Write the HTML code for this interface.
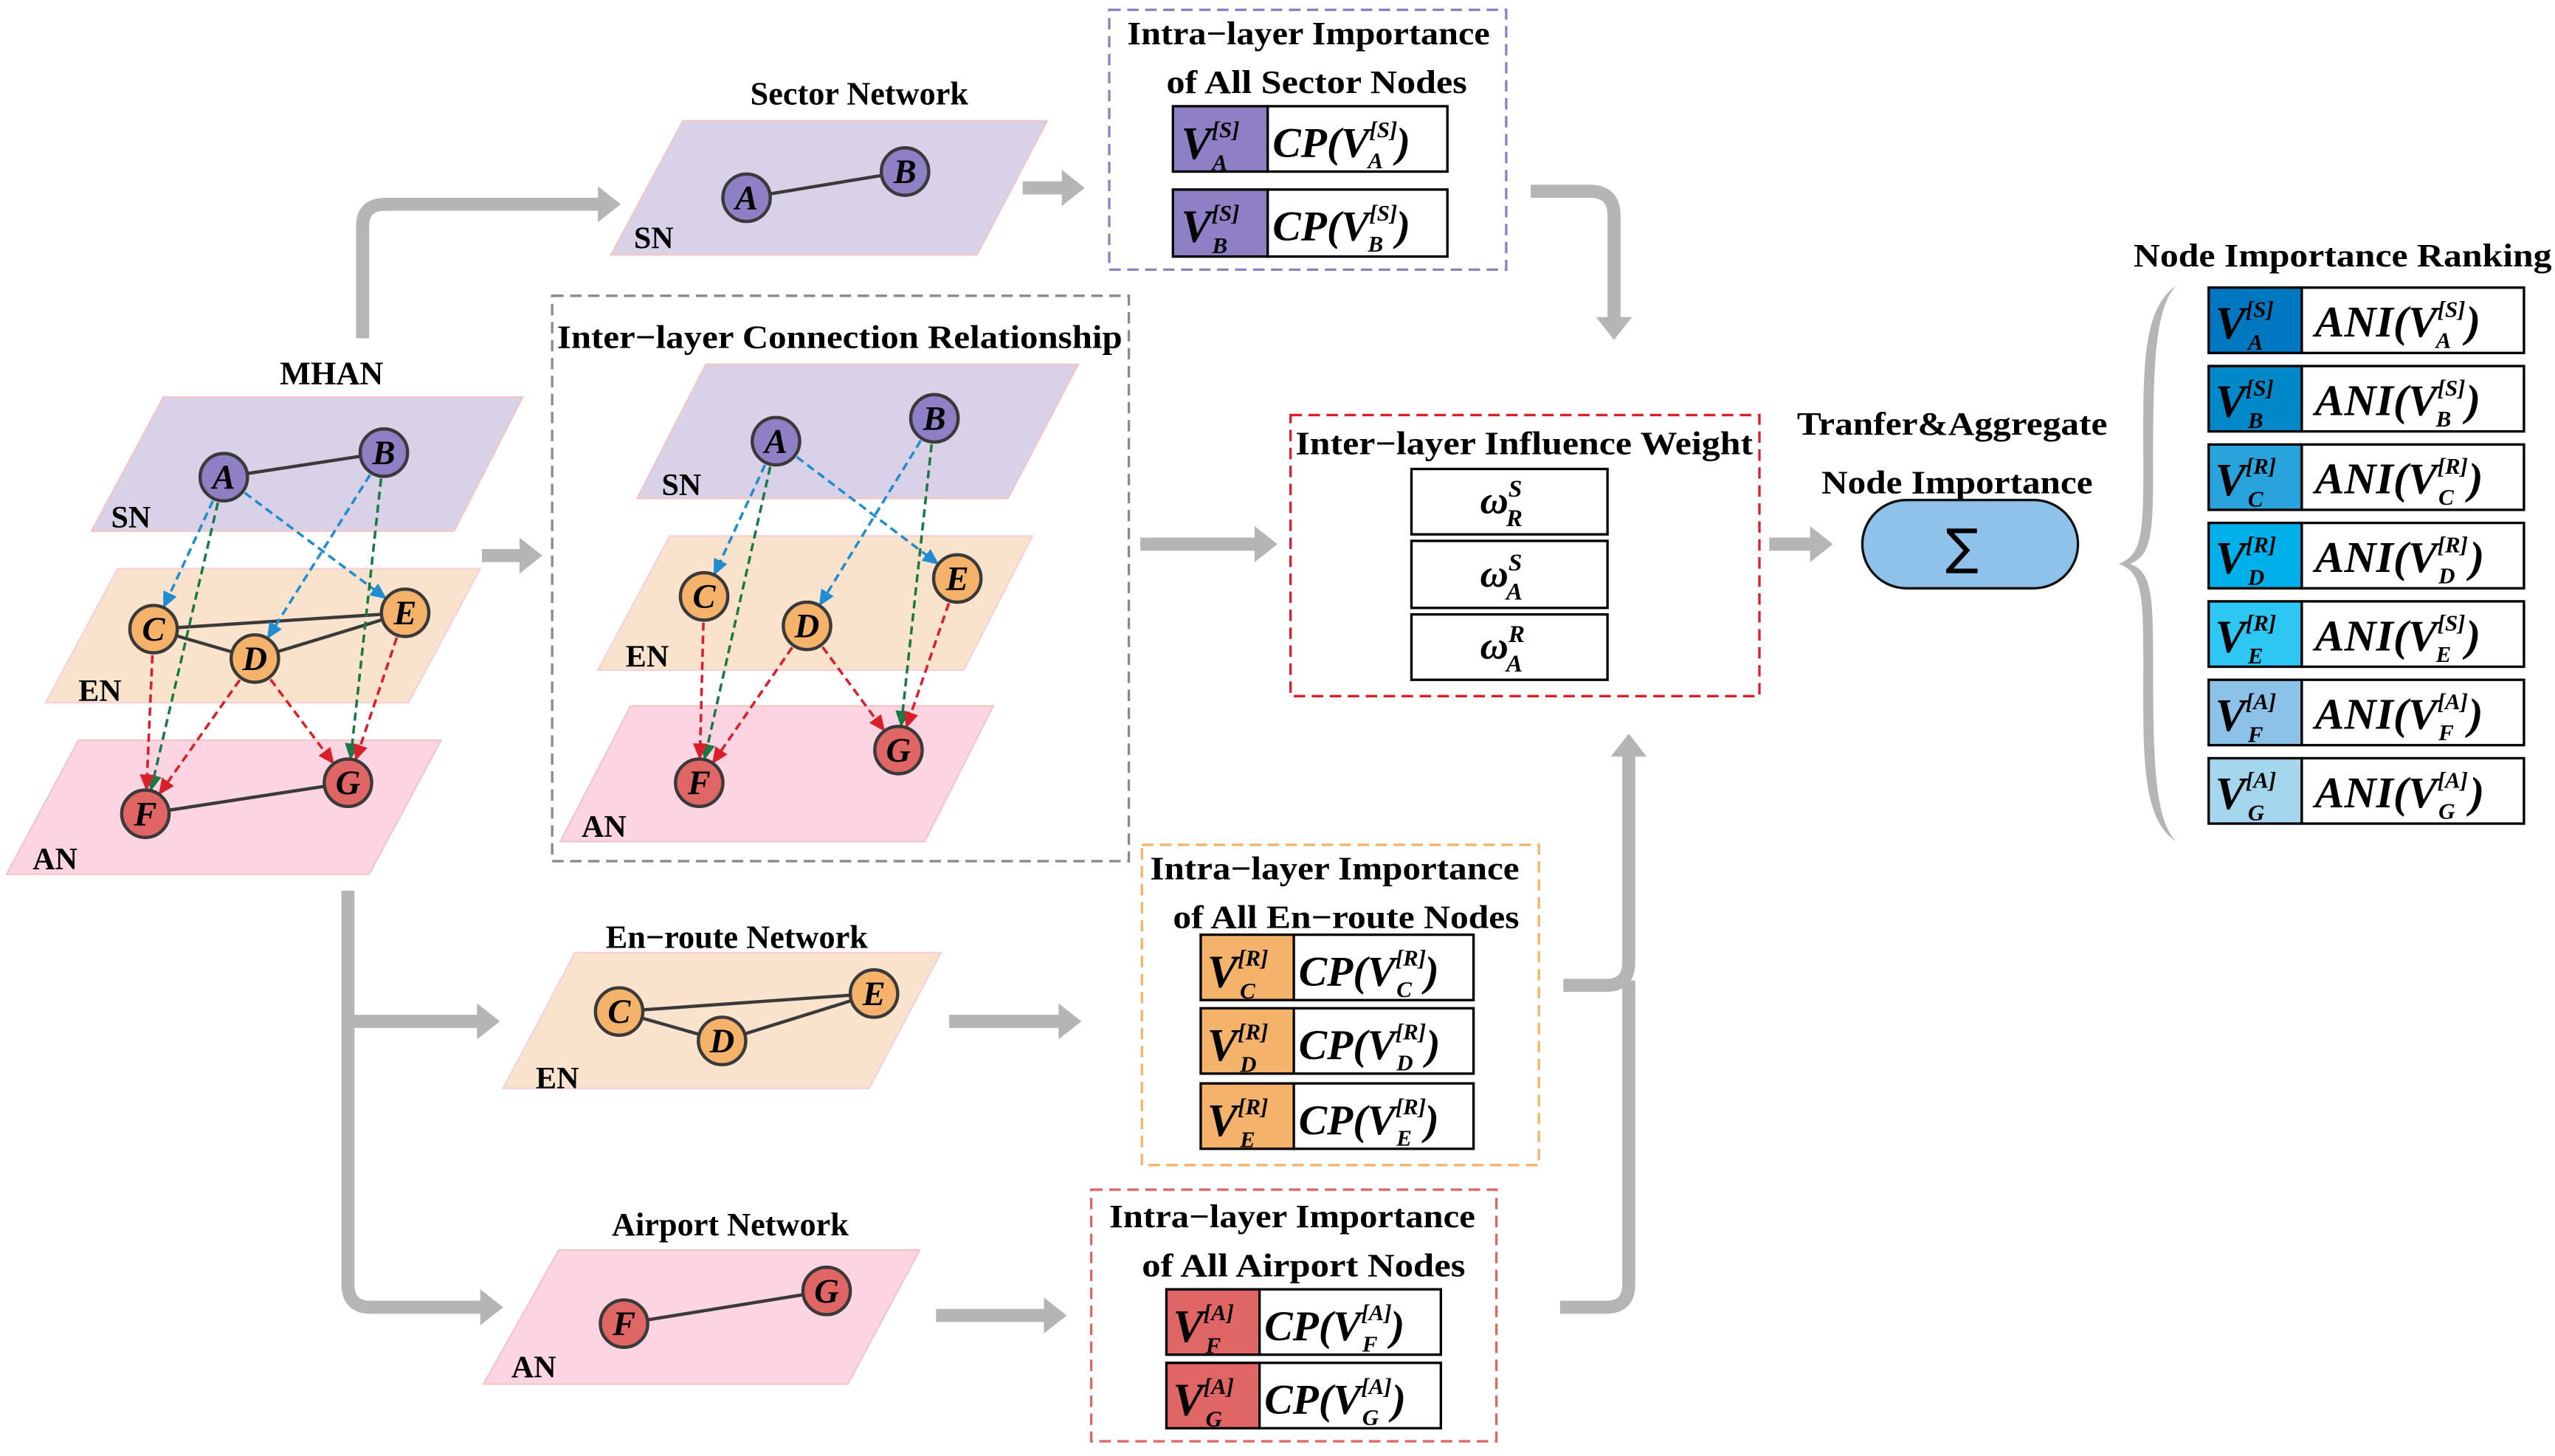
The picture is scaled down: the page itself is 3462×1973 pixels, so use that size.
<!DOCTYPE html>
<html><head><meta charset="utf-8"><style>
html,body{margin:0;padding:0;background:#fff}
svg{display:block}
.t{font-family:"Liberation Serif",serif;font-weight:bold;fill:#000}
.m{font-family:"Liberation Serif",serif;font-weight:bold;font-style:italic;fill:#000}
.nl{font-family:"Liberation Serif",serif;font-weight:bold;font-style:italic;font-size:21px;text-anchor:middle;fill:#000}
</style></head><body>
<svg width="3462" height="1973" viewBox="0 0 1564 891" preserveAspectRatio="none" xmlns="http://www.w3.org/2000/svg">
<defs>
<marker id="ab" markerUnits="userSpaceOnUse" markerWidth="30" markerHeight="12" refX="24" refY="4.5" orient="auto" overflow="visible"><path d="M0,0 L10,4.5 L0,9 z" fill="#1f8dd0"/></marker>
<marker id="ag" markerUnits="userSpaceOnUse" markerWidth="30" markerHeight="12" refX="24" refY="4.5" orient="auto" overflow="visible"><path d="M0,0 L10,4.5 L0,9 z" fill="#1a7a45"/></marker>
<marker id="ar" markerUnits="userSpaceOnUse" markerWidth="30" markerHeight="12" refX="24" refY="4.5" orient="auto" overflow="visible"><path d="M0,0 L10,4.5 L0,9 z" fill="#d9202a"/></marker>
<marker id="gy" markerUnits="userSpaceOnUse" markerWidth="20" markerHeight="24" refX="2" refY="11" orient="auto" overflow="visible"><path d="M0,0 L14,11 L0,22 z" fill="#b5b5b5"/></marker>
</defs>

<!-- gray flow arrows -->
<g fill="none" stroke="#b5b5b5" stroke-width="8">
<path d="M222,207 V138 Q222,125 236,125 H368" marker-end="url(#gy)"/>
<path d="M295,340 H320" marker-end="url(#gy)"/>
<path d="M213,545 V786 Q213,800 227,800 H296" marker-end="url(#gy)"/>
<path d="M213,625 H294" marker-end="url(#gy)"/>
<path d="M626,115 H652" marker-end="url(#gy)"/>
<path d="M698,333 H770" marker-end="url(#gy)"/>
<path d="M581,625 H650" marker-end="url(#gy)"/>
<path d="M573,805 H641" marker-end="url(#gy)"/>
<path d="M937,117 H973 Q988,117 988,132 V196" marker-end="url(#gy)"/>
<path d="M957,603 H983 Q997,603 997,589 V461" marker-end="url(#gy)"/>
<path d="M955,800 H983 Q997,800 997,786 V600"/>
<path d="M1083,333 H1110" marker-end="url(#gy)"/>
</g>

<!-- MHAN -->
<text class="t" x="203" y="235" font-size="20" text-anchor="middle">MHAN</text>
<polygon points="100,243 320,243 278,325 56,325" fill="#d9d1e8" stroke="#f2c6c6" stroke-width="1"/>
<polygon points="72,348 294,348 250,430 28,430" fill="#fae3cc" stroke="#f7cfd8" stroke-width="1"/>
<polygon points="48,453 270,453 226,535 4,535" fill="#fcd4e2" stroke="#f2c6c6" stroke-width="1"/>
<text class="t" x="68" y="323" font-size="19">SN</text>
<text class="t" x="48" y="429" font-size="19">EN</text>
<text class="t" x="20" y="532" font-size="19">AN</text>
<g stroke="#3a3a3a" stroke-width="2">
<line x1="137" y1="292" x2="235" y2="277"/>
<line x1="94" y1="385" x2="248" y2="375"/>
<line x1="94" y1="385" x2="156" y2="403"/>
<line x1="156" y1="403" x2="248" y2="375"/>
<line x1="89" y1="498" x2="213" y2="479"/>
</g>
<g fill="none" stroke-width="1.6" stroke-dasharray="5,3">
<line x1="137" y1="292" x2="94" y2="385" stroke="#1f8dd0" marker-end="url(#ab)"/>
<line x1="137" y1="292" x2="248" y2="375" stroke="#1f8dd0" marker-end="url(#ab)"/>
<line x1="235" y1="277" x2="156" y2="403" stroke="#1f8dd0" marker-end="url(#ab)"/>
<line x1="137" y1="292" x2="89" y2="498" stroke="#1a7a45" marker-end="url(#ag)"/>
<line x1="235" y1="277" x2="213" y2="479" stroke="#1a7a45" marker-end="url(#ag)"/>
<line x1="94" y1="385" x2="89" y2="498" stroke="#d9202a" marker-end="url(#ar)"/>
<line x1="156" y1="403" x2="89" y2="498" stroke="#d9202a" marker-end="url(#ar)"/>
<line x1="156" y1="403" x2="213" y2="479" stroke="#d9202a" marker-end="url(#ar)"/>
<line x1="248" y1="375" x2="213" y2="479" stroke="#d9202a" marker-end="url(#ar)"/>
</g>
<g stroke="#3a3a3a" stroke-width="2">
<circle cx="137" cy="292" r="14.5" fill="#8f7fc4"/>
<circle cx="235" cy="277" r="14.5" fill="#8f7fc4"/>
<circle cx="94" cy="385" r="14.5" fill="#f5b26b"/>
<circle cx="156" cy="403" r="14.5" fill="#f5b26b"/>
<circle cx="248" cy="375" r="14.5" fill="#f5b26b"/>
<circle cx="89" cy="498" r="14.5" fill="#e06666"/>
<circle cx="213" cy="479" r="14.5" fill="#e06666"/>
</g>
<text class="nl" x="137" y="299">A</text><text class="nl" x="235" y="284">B</text>
<text class="nl" x="94" y="392">C</text><text class="nl" x="156" y="410">D</text>
<text class="nl" x="248" y="382">E</text><text class="nl" x="89" y="505">F</text>
<text class="nl" x="213" y="486">G</text>

<!-- Inter-layer connection relationship -->
<rect x="338" y="181" width="353" height="346" fill="none" stroke="#8a8a8a" stroke-width="1.5" stroke-dasharray="7,4"/>
<text class="t" x="514" y="213" font-size="20" text-anchor="middle" textLength="346" lengthAdjust="spacingAndGlyphs">Inter−layer Connection Relationship</text>
<polygon points="432,223 660,223 617,305 390,305" fill="#d9d1e8" stroke="#f2c6c6"/>
<polygon points="410,328 632,328 590,410 366,410" fill="#fae3cc" stroke="#f7cfd8"/>
<polygon points="386,432 608,432 566,515 343,515" fill="#fcd4e2" stroke="#f2c6c6"/>
<text class="t" x="405" y="303" font-size="19">SN</text>
<text class="t" x="383" y="408" font-size="19">EN</text>
<text class="t" x="356" y="512" font-size="19">AN</text>
<g fill="none" stroke-width="1.6" stroke-dasharray="5,3">
<line x1="475" y1="270" x2="431" y2="365" stroke="#1f8dd0" marker-end="url(#ab)"/>
<line x1="475" y1="270" x2="586" y2="354" stroke="#1f8dd0" marker-end="url(#ab)"/>
<line x1="572" y1="256" x2="494" y2="383" stroke="#1f8dd0" marker-end="url(#ab)"/>
<line x1="475" y1="270" x2="428" y2="479" stroke="#1a7a45" marker-end="url(#ag)"/>
<line x1="572" y1="256" x2="550" y2="459" stroke="#1a7a45" marker-end="url(#ag)"/>
<line x1="431" y1="365" x2="428" y2="479" stroke="#d9202a" marker-end="url(#ar)"/>
<line x1="494" y1="383" x2="428" y2="479" stroke="#d9202a" marker-end="url(#ar)"/>
<line x1="494" y1="383" x2="550" y2="459" stroke="#d9202a" marker-end="url(#ar)"/>
<line x1="586" y1="354" x2="550" y2="459" stroke="#d9202a" marker-end="url(#ar)"/>
</g>
<g stroke="#3a3a3a" stroke-width="2">
<circle cx="475" cy="270" r="14.5" fill="#8f7fc4"/>
<circle cx="572" cy="256" r="14.5" fill="#8f7fc4"/>
<circle cx="431" cy="365" r="14.5" fill="#f5b26b"/>
<circle cx="494" cy="383" r="14.5" fill="#f5b26b"/>
<circle cx="586" cy="354" r="14.5" fill="#f5b26b"/>
<circle cx="428" cy="479" r="14.5" fill="#e06666"/>
<circle cx="550" cy="459" r="14.5" fill="#e06666"/>
</g>
<text class="nl" x="475" y="277">A</text><text class="nl" x="572" y="263">B</text>
<text class="nl" x="431" y="372">C</text><text class="nl" x="494" y="390">D</text>
<text class="nl" x="586" y="361">E</text><text class="nl" x="428" y="486">F</text>
<text class="nl" x="550" y="466">G</text>

<!-- Sector network -->
<text class="t" x="526" y="64" font-size="20" text-anchor="middle">Sector Network</text>
<polygon points="418,74 641,74 598,156 374,156" fill="#d9d1e8" stroke="#f2c6c6"/>
<text class="t" x="388" y="152" font-size="19">SN</text>
<line x1="457" y1="121" x2="554" y2="105" stroke="#3a3a3a" stroke-width="2"/>
<g stroke="#3a3a3a" stroke-width="2">
<circle cx="457" cy="121" r="14.5" fill="#8f7fc4"/>
<circle cx="554" cy="105" r="14.5" fill="#8f7fc4"/>
</g>
<text class="nl" x="457" y="128">A</text><text class="nl" x="554" y="112">B</text>

<!-- En-route network -->
<text class="t" x="451" y="580" font-size="20" text-anchor="middle">En−route Network</text>
<polygon points="352,583 576,583 532,666 308,666" fill="#fae3cc" stroke="#f7cfd8"/>
<text class="t" x="328" y="666" font-size="19">EN</text>
<g stroke="#3a3a3a" stroke-width="2">
<line x1="379" y1="619" x2="535" y2="608"/>
<line x1="379" y1="619" x2="442" y2="637"/>
<line x1="442" y1="637" x2="535" y2="608"/>
<circle cx="379" cy="619" r="14.5" fill="#f5b26b"/>
<circle cx="442" cy="637" r="14.5" fill="#f5b26b"/>
<circle cx="535" cy="608" r="14.5" fill="#f5b26b"/>
</g>
<text class="nl" x="379" y="626">C</text><text class="nl" x="442" y="644">D</text><text class="nl" x="535" y="615">E</text>

<!-- Airport network -->
<text class="t" x="447" y="756" font-size="20" text-anchor="middle">Airport Network</text>
<polygon points="342,765 563,765 519,847 296,847" fill="#fcd4e2" stroke="#f2c6c6"/>
<text class="t" x="313" y="843" font-size="19">AN</text>
<g stroke="#3a3a3a" stroke-width="2">
<line x1="382" y1="810" x2="506" y2="790"/>
<circle cx="382" cy="810" r="14.5" fill="#e06666"/>
<circle cx="506" cy="790" r="14.5" fill="#e06666"/>
</g>
<text class="nl" x="382" y="817">F</text><text class="nl" x="506" y="797">G</text>

<!-- Sector intra box -->
<rect x="679" y="6" width="243" height="159" fill="none" stroke="#8f7fc4" stroke-width="1.5" stroke-dasharray="7,4"/>
<text class="t" x="801" y="27" font-size="20" text-anchor="middle" textLength="222" lengthAdjust="spacingAndGlyphs">Intra−layer Importance</text>
<text class="t" x="806" y="57" font-size="20" text-anchor="middle" textLength="184" lengthAdjust="spacingAndGlyphs">of All Sector Nodes</text>
<g stroke="#000" stroke-width="1.5">
<rect x="718" y="65" width="58" height="40" fill="#8f7fc4"/><rect x="776" y="65" width="110" height="40" fill="#fff"/>
<rect x="718" y="116" width="58" height="41" fill="#8f7fc4"/><rect x="776" y="116" width="110" height="41" fill="#fff"/>
</g>
<text class="m" x="723" y="97" font-size="28">V<tspan font-size="14" dy="-13">[S]</tspan><tspan x="742" dy="20" font-size="14">A</tspan></text>
<text class="m" x="779" y="96" font-size="26">CP(V<tspan font-size="14" dy="-12">[S]</tspan><tspan dx="-18" dy="19" font-size="14">A</tspan><tspan dx="8" dy="-7">)</tspan></text>
<text class="m" x="723" y="148" font-size="28">V<tspan font-size="14" dy="-13">[S]</tspan><tspan x="742" dy="20" font-size="14">B</tspan></text>
<text class="m" x="779" y="147" font-size="26">CP(V<tspan font-size="14" dy="-12">[S]</tspan><tspan dx="-18" dy="19" font-size="14">B</tspan><tspan dx="8" dy="-7">)</tspan></text>

<!-- Inter-layer influence weight -->
<rect x="790" y="254" width="287" height="172" fill="none" stroke="#d9202a" stroke-width="1.5" stroke-dasharray="7,4"/>
<text class="t" x="933" y="278" font-size="20" text-anchor="middle" textLength="280" lengthAdjust="spacingAndGlyphs">Inter−layer Influence Weight</text>
<g stroke="#000" stroke-width="1.5" fill="#fff">
<rect x="864" y="287" width="120" height="40"/>
<rect x="864" y="331" width="120" height="41"/>
<rect x="864" y="376" width="120" height="40"/>
</g>
<text class="m" x="906" y="314" font-size="24">ω<tspan font-size="15" dy="-10">S</tspan><tspan x="922" dy="18" font-size="15">R</tspan></text>
<text class="m" x="906" y="359" font-size="24">ω<tspan font-size="15" dy="-10">S</tspan><tspan x="922" dy="18" font-size="15">A</tspan></text>
<text class="m" x="906" y="403" font-size="24">ω<tspan font-size="15" dy="-10">R</tspan><tspan x="922" dy="18" font-size="15">A</tspan></text>

<!-- aggregate -->
<text class="t" x="1195" y="266" font-size="20" text-anchor="middle" textLength="190" lengthAdjust="spacingAndGlyphs">Tranfer&amp;Aggregate</text>
<text class="t" x="1198" y="302" font-size="20" text-anchor="middle" textLength="166" lengthAdjust="spacingAndGlyphs">Node Importance</text>
<rect x="1140" y="306" width="132" height="54" rx="27" fill="#8ec2ea" stroke="#111" stroke-width="1.5"/>
<text x="1201" y="345" font-family="DejaVu Sans,sans-serif" font-size="30" text-anchor="middle" fill="#000">∑</text>

<!-- En-route intra box -->
<rect x="699" y="517" width="243" height="196" fill="none" stroke="#f5b26b" stroke-width="1.5" stroke-dasharray="7,4"/>
<text class="t" x="817" y="538" font-size="20" text-anchor="middle" textLength="226" lengthAdjust="spacingAndGlyphs">Intra−layer Importance</text>
<text class="t" x="824" y="568" font-size="20" text-anchor="middle" textLength="212" lengthAdjust="spacingAndGlyphs">of All En−route Nodes</text>
<g stroke="#000" stroke-width="1.5">
<rect x="735" y="572" width="57" height="40" fill="#f5b26b"/><rect x="792" y="572" width="110" height="40" fill="#fff"/>
<rect x="735" y="617" width="57" height="40" fill="#f5b26b"/><rect x="792" y="617" width="110" height="40" fill="#fff"/>
<rect x="735" y="663" width="57" height="40" fill="#f5b26b"/><rect x="792" y="663" width="110" height="40" fill="#fff"/>
</g>
<text class="m" x="739" y="604" font-size="28">V<tspan font-size="14" dy="-13">[R]</tspan><tspan x="759" dy="20" font-size="14">C</tspan></text>
<text class="m" x="795" y="603" font-size="26">CP(V<tspan font-size="14" dy="-12">[R]</tspan><tspan dx="-18" dy="19" font-size="14">C</tspan><tspan dx="8" dy="-7">)</tspan></text>
<text class="m" x="739" y="649" font-size="28">V<tspan font-size="14" dy="-13">[R]</tspan><tspan x="759" dy="20" font-size="14">D</tspan></text>
<text class="m" x="795" y="648" font-size="26">CP(V<tspan font-size="14" dy="-12">[R]</tspan><tspan dx="-18" dy="19" font-size="14">D</tspan><tspan dx="8" dy="-7">)</tspan></text>
<text class="m" x="739" y="695" font-size="28">V<tspan font-size="14" dy="-13">[R]</tspan><tspan x="759" dy="20" font-size="14">E</tspan></text>
<text class="m" x="795" y="694" font-size="26">CP(V<tspan font-size="14" dy="-12">[R]</tspan><tspan dx="-18" dy="19" font-size="14">E</tspan><tspan dx="8" dy="-7">)</tspan></text>

<!-- Airport intra box -->
<rect x="668" y="728" width="248" height="154" fill="none" stroke="#e06666" stroke-width="1.5" stroke-dasharray="7,4"/>
<text class="t" x="791" y="751" font-size="20" text-anchor="middle" textLength="224" lengthAdjust="spacingAndGlyphs">Intra−layer Importance</text>
<text class="t" x="798" y="781" font-size="20" text-anchor="middle" textLength="198" lengthAdjust="spacingAndGlyphs">of All Airport Nodes</text>
<g stroke="#000" stroke-width="1.5">
<rect x="714" y="789" width="57" height="40" fill="#e06666"/><rect x="771" y="789" width="111" height="40" fill="#fff"/>
<rect x="714" y="834" width="57" height="40" fill="#e06666"/><rect x="771" y="834" width="111" height="40" fill="#fff"/>
</g>
<text class="m" x="718" y="821" font-size="28">V<tspan font-size="14" dy="-13">[A]</tspan><tspan x="738" dy="20" font-size="14">F</tspan></text>
<text class="m" x="774" y="820" font-size="26">CP(V<tspan font-size="14" dy="-12">[A]</tspan><tspan dx="-18" dy="19" font-size="14">F</tspan><tspan dx="8" dy="-7">)</tspan></text>
<text class="m" x="718" y="866" font-size="28">V<tspan font-size="14" dy="-13">[A]</tspan><tspan x="738" dy="20" font-size="14">G</tspan></text>
<text class="m" x="774" y="865" font-size="26">CP(V<tspan font-size="14" dy="-12">[A]</tspan><tspan dx="-18" dy="19" font-size="14">G</tspan><tspan dx="8" dy="-7">)</tspan></text>

<!-- Ranking -->
<text class="t" x="1434" y="163" font-size="20" text-anchor="middle" textLength="256" lengthAdjust="spacingAndGlyphs">Node Importance Ranking</text>
<path d="M1332,175 C1310,190 1312,230 1312,290 C1312,330 1310,340 1297,345 C1310,350 1312,360 1312,400 C1312,460 1310,500 1332,515 C1318,500 1318,460 1318,400 C1318,360 1316,350 1304,345 C1316,340 1318,330 1318,290 C1318,230 1318,190 1332,175 z" fill="#b5b5b5"/>
<g stroke="#000" stroke-width="1.5">
<rect x="1352" y="176" width="57" height="40" fill="#0078c1"/><rect x="1409" y="176" width="136" height="40" fill="#fff"/>
<rect x="1352" y="224" width="57" height="40" fill="#0088c8"/><rect x="1409" y="224" width="136" height="40" fill="#fff"/>
<rect x="1352" y="272" width="57" height="40" fill="#29a3dc"/><rect x="1409" y="272" width="136" height="40" fill="#fff"/>
<rect x="1352" y="320" width="57" height="40" fill="#00b0eb"/><rect x="1409" y="320" width="136" height="40" fill="#fff"/>
<rect x="1352" y="368" width="57" height="40" fill="#2ec6f2"/><rect x="1409" y="368" width="136" height="40" fill="#fff"/>
<rect x="1352" y="416" width="57" height="40" fill="#8cc1e8"/><rect x="1409" y="416" width="136" height="40" fill="#fff"/>
<rect x="1352" y="464" width="57" height="40" fill="#a4d6ee"/><rect x="1409" y="464" width="136" height="40" fill="#fff"/>
</g>
<g class="m">
<text class="m" x="1356" y="207" font-size="28">V<tspan font-size="14" dy="-13">[S]</tspan><tspan x="1376" dy="20" font-size="14">A</tspan></text>
<text class="m" x="1417" y="206" font-size="27">ANI(V<tspan font-size="14" dy="-12">[S]</tspan><tspan dx="-18" dy="19" font-size="14">A</tspan><tspan dx="9" dy="-7">)</tspan></text>
<text class="m" x="1356" y="255" font-size="28">V<tspan font-size="14" dy="-13">[S]</tspan><tspan x="1376" dy="20" font-size="14">B</tspan></text>
<text class="m" x="1417" y="254" font-size="27">ANI(V<tspan font-size="14" dy="-12">[S]</tspan><tspan dx="-18" dy="19" font-size="14">B</tspan><tspan dx="9" dy="-7">)</tspan></text>
<text class="m" x="1356" y="303" font-size="28">V<tspan font-size="14" dy="-13">[R]</tspan><tspan x="1376" dy="20" font-size="14">C</tspan></text>
<text class="m" x="1417" y="302" font-size="27">ANI(V<tspan font-size="14" dy="-12">[R]</tspan><tspan dx="-18" dy="19" font-size="14">C</tspan><tspan dx="9" dy="-7">)</tspan></text>
<text class="m" x="1356" y="351" font-size="28">V<tspan font-size="14" dy="-13">[R]</tspan><tspan x="1376" dy="20" font-size="14">D</tspan></text>
<text class="m" x="1417" y="350" font-size="27">ANI(V<tspan font-size="14" dy="-12">[R]</tspan><tspan dx="-18" dy="19" font-size="14">D</tspan><tspan dx="9" dy="-7">)</tspan></text>
<text class="m" x="1356" y="399" font-size="28">V<tspan font-size="14" dy="-13">[R]</tspan><tspan x="1376" dy="20" font-size="14">E</tspan></text>
<text class="m" x="1417" y="398" font-size="27">ANI(V<tspan font-size="14" dy="-12">[S]</tspan><tspan dx="-18" dy="19" font-size="14">E</tspan><tspan dx="9" dy="-7">)</tspan></text>
<text class="m" x="1356" y="447" font-size="28">V<tspan font-size="14" dy="-13">[A]</tspan><tspan x="1376" dy="20" font-size="14">F</tspan></text>
<text class="m" x="1417" y="446" font-size="27">ANI(V<tspan font-size="14" dy="-12">[A]</tspan><tspan dx="-18" dy="19" font-size="14">F</tspan><tspan dx="9" dy="-7">)</tspan></text>
<text class="m" x="1356" y="495" font-size="28">V<tspan font-size="14" dy="-13">[A]</tspan><tspan x="1376" dy="20" font-size="14">G</tspan></text>
<text class="m" x="1417" y="494" font-size="27">ANI(V<tspan font-size="14" dy="-12">[A]</tspan><tspan dx="-18" dy="19" font-size="14">G</tspan><tspan dx="9" dy="-7">)</tspan></text>
</g>
</svg>
</body></html>
